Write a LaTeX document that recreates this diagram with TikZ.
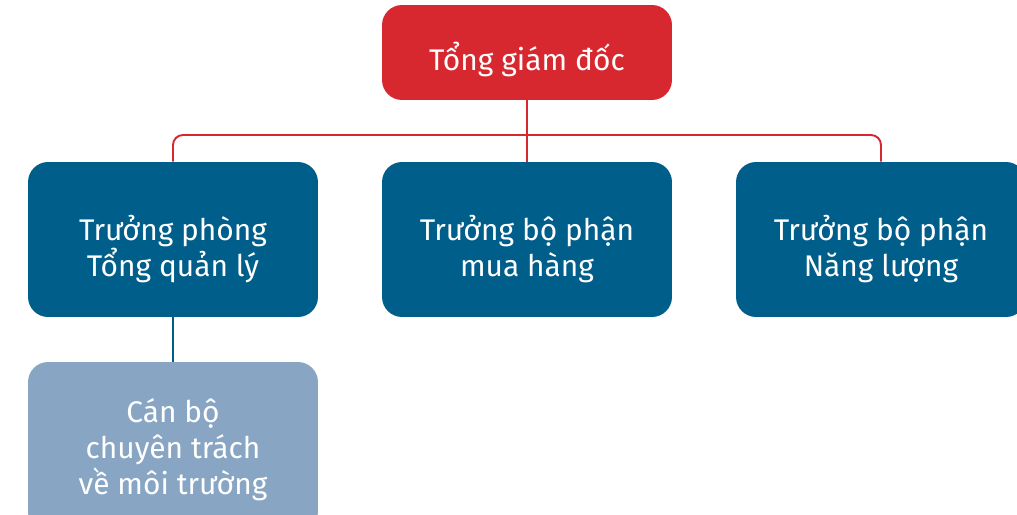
\documentclass[tikz,border=0pt]{standalone}
\usepackage{fontspec}
\setmainfont{Fira Sans}
\definecolor{gdred}{RGB}{215,40,47}
\definecolor{deptblue}{RGB}{0,94,138}
\definecolor{staffblue}{RGB}{136,166,196}
% text set a little below the box centre
\newcommand{\lowtext}[2]{\raisebox{-#1}[\height][\depth]{\parbox{5cm}{\centering #2}}}

\begin{document}
\begin{tikzpicture}[x=0.02cm,y=-0.02cm,
  box/.style={rounded corners=0.4cm,minimum width=5.8cm,text=white,
    font=\fontsize{17}{20.5}\selectfont},
  redline/.style={gdred,line width=1.1pt},
  blueline/.style={deptblue,line width=1.1pt}]
  \useasboundingbox (0,0) rectangle (1017,514);
  \clip (0,0) rectangle (1017,514);
  % top
  \node[box,fill=gdred,minimum height=1.9cm] (gd) at (527,52.5) {\lowtext{0.14cm}{Tổng giám đốc}};
  % departments
  \node[box,fill=deptblue,minimum height=3.1cm] (ql) at (173,239.5) {\lowtext{0.2cm}{Trưởng phòng\\Tổng quản lý}};
  \node[box,fill=deptblue,minimum height=3.1cm] (mh) at (527,239.5) {\lowtext{0.2cm}{Trưởng bộ phận\\mua hàng}};
  \node[box,fill=deptblue,minimum height=3.1cm] (nl) at (881,239.5) {\lowtext{0.2cm}{Trưởng bộ phận\\Năng lượng}};
  % staff
  \node[box,fill=staffblue,minimum height=3.4cm] (cb) at (173,447) {\lowtext{0.05cm}{Cán bộ\\chuyên trách\\về môi trường}};
  \coordinate (bus) at (527,135);
  \draw[redline] (gd.south) -- (mh.north);
  \draw[redline,rounded corners=0.2cm] (bus) -| (ql.north);
  \draw[redline,rounded corners=0.2cm] (bus) -| (nl.north);
  \draw[blueline] (ql.south) -- (cb.north);
\end{tikzpicture}
\end{document}
